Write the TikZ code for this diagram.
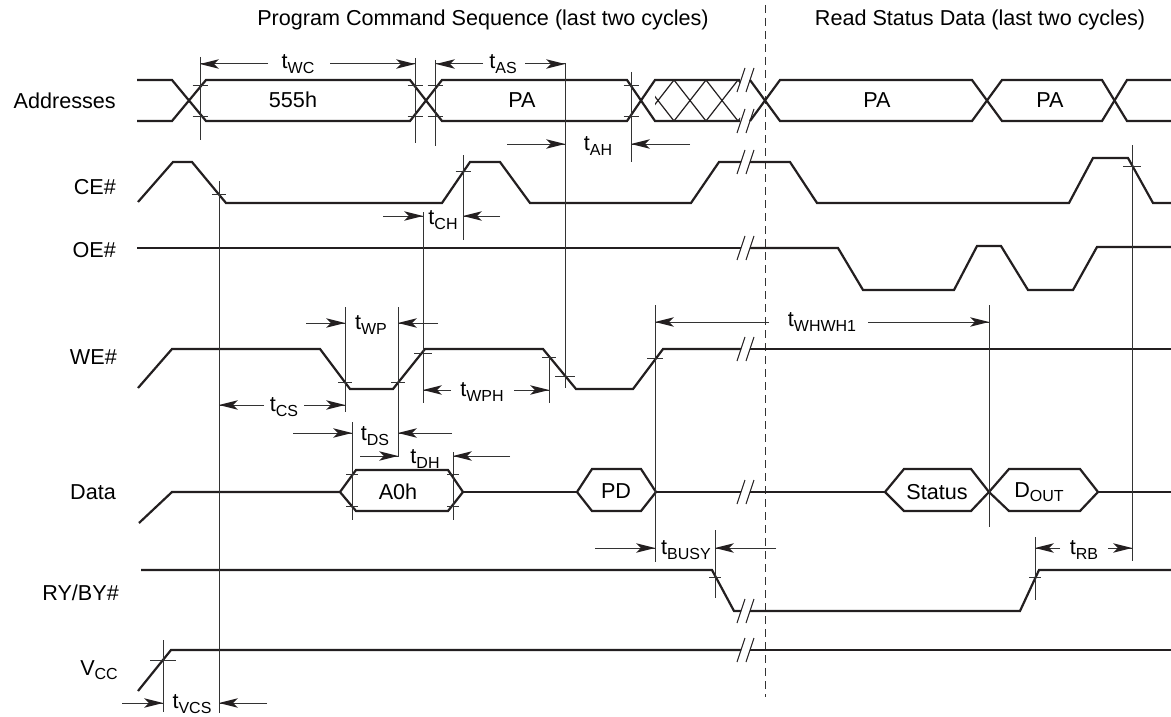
\documentclass[tikz,border=0pt]{standalone}
\usepackage{fontspec}
\setmainfont{Liberation Sans}
\usetikzlibrary{arrows.meta}
\definecolor{sigc}{HTML}{231F20}
\definecolor{refc}{HTML}{333333}
\newcommand\sbs[1]{\raisebox{-4.5pt}{\fontsize{16}{16}\selectfont #1}}
\begin{document}
\begin{tikzpicture}[x=1pt,y=-1pt, font=\fontsize{21.6}{25}\selectfont,
  sig/.style={line width=2.2pt, draw=sigc, line join=miter},
  refl/.style={line width=1pt, draw=refc},
  dimline/.style={line width=1pt, draw=refc},
  tk/.style={line width=1pt, draw=refc},
  lbl/.style={anchor=east, inner sep=0pt},
  tl/.style={inner sep=0pt}]
\useasboundingbox (0,0) rectangle (1171,717);

% dimension arrow: from (#1,#3) to tip at (#2,#3)
\newcommand\dimarrow[3]{%
  \draw[dimline] (#1,#3) -- (#2,#3);
  \pgfmathsetmacro\dd{ifthenelse(#2>#1,1,-1)}
  \fill[sigc] (#2,#3) -- ({#2-\dd*19},{#3-4.8}) -- ({#2-\dd*14},#3) -- ({#2-\dd*19},{#3+4.8}) -- cycle;
}

% titles
\node[tl] (title1) at (483,20) {Program Command Sequence (last two cycles)};
\node[tl] (title2) at (980,20) {Read Status Data (last two cycles)};

% signal names
\node[lbl] (nAddr) at (116,101) {Addresses};
\node[lbl] (nCE) at (116,187) {CE\#};
\node[lbl] (nOE) at (116,250) {OE\#};
\node[lbl] (nWE) at (117,357) {WE\#};
\node[lbl] (nData) at (116,492) {Data};
\node[lbl] (nRY) at (119,593) {RY/BY\#};
\node[lbl] (nVcc) at (118,670) {V\sbs{CC}};

% dashed divider
\draw[refl, dash pattern=on 8pt off 5pt] (765,5) -- (765,697);

% ---------- Addresses ----------
\draw[sig] (137,80)--(172,80)--(206,121)--(410,121)--(442,80)--(627,80)--(655,121)--(740,121);
\draw[sig] (137,121)--(172,121)--(206,80)--(410,80)--(442,121)--(627,121)--(655,80)--(740,80);
\begin{scope}
  \clip (655,80) rectangle (740,121);
  \foreach \c in {658,690,722,754} {
    \draw[line width=1.2pt, draw=sigc] ({\c-16},80) -- ({\c+16},121);
    \draw[line width=1.2pt, draw=sigc] ({\c-16},121) -- ({\c+16},80);
  }
\end{scope}
\draw[sig] (750,80)--(780,121)--(972,121)--(1002,80)--(1102,80)--(1127,121)--(1171,121);
\draw[sig] (750,121)--(780,80)--(972,80)--(1002,121)--(1102,121)--(1127,80)--(1171,80);
\node[tl] (v555) at (293,100) {555h};
\node[tl] (vPA1) at (522,100) {PA};
\node[tl] (vPA2) at (877,100) {PA};
\node[tl] (vPA3) at (1050,100) {PA};

% ---------- CE# ----------
\draw[sig] (138,202)--(173,162)--(192,162)--(226,203)--(442,203)--(470,162)--(500,162)--(530,203)--(691,203)--(719,162)--(741,162);
\draw[sig] (750,162)--(790,162)--(817,203)--(1069,203)--(1093,158)--(1128,158)--(1153,203)--(1171,203);

% ---------- OE# ----------
\draw[sig] (137,248)--(741,248);
\draw[sig] (750,248)--(838,248)--(863,290)--(954,290)--(977,246)--(1001,246)--(1028,290)--(1073,290)--(1097,247)--(1171,247);

% ---------- WE# ----------
\draw[sig] (138,388)--(172,349)--(320,349)--(350,389)--(393,389)--(425,349)--(543,349)--(576,389)--(633,389)--(663,349)--(741,349);
\draw[sig] (750,349)--(1171,349);

% ---------- Data ----------
\draw[sig] (139,523)--(172,492)--(340,492);
\draw[sig] (340,492)--(356,470)--(448,470)--(463,492)--(448,511)--(356,511)--cycle;
\draw[sig] (463,492)--(577,492);
\draw[sig] (577,492)--(592,469)--(641,469)--(656,492)--(641,511)--(592,511)--cycle;
\draw[sig] (656,492)--(741,492);
\draw[sig] (750,492)--(885,492);
\draw[sig] (885,492)--(904,469)--(971,469)--(989,492)--(971,511)--(904,511)--cycle;
\draw[sig] (989,492)--(1009,469)--(1080,469)--(1098,492)--(1080,511)--(1009,511)--cycle;
\draw[sig] (1098,492)--(1171,492);
\node[tl] (vA0h) at (398,492) {A0h};
\node[tl] (vPD) at (616,491) {PD};
\node[tl] (vSt) at (937,492) {Status};
\node[tl] (vDo) at (1039,492) {D\sbs{OUT}};

% ---------- RY/BY# ----------
\draw[sig] (141,570)--(712,570)--(734,611)--(741,611);
\draw[sig] (750,611)--(1020,611)--(1039,570)--(1171,570);

% ---------- Vcc ----------
\draw[sig] (138,691)--(171,650)--(741,650);
\draw[sig] (750,650)--(1171,650);

% break marks
\foreach \y in {80,121,162,248,349,492,611,650} {
  \draw[line width=1pt, draw=sigc] (737,{\y+12}) -- (745,{\y-12});
  \draw[line width=1pt, draw=sigc] (746,{\y+12}) -- (754,{\y-12});
}

% ---------- reference verticals ----------
\draw[refl] (200,57)--(200,140);
\draw[refl] (415,58)--(415,143);
\draw[refl] (435,60)--(435,146);
\draw[refl] (631,72)--(631,162);
\draw[refl] (565,63)--(565,388);
\draw[refl] (219,181)--(219,713);
\draw[refl] (463,155)--(463,240);
\draw[refl] (423,212)--(423,403);
\draw[refl] (345,307)--(345,412);
\draw[refl] (398,307)--(398,457);
\draw[refl] (352,422)--(352,520);
\draw[refl] (453,452)--(453,520);
\draw[refl] (549,357)--(549,403);
\draw[refl] (655,305)--(655,562);
\draw[refl] (989,305)--(989,527);
\draw[refl] (715,530)--(715,598);
\draw[refl] (1035,537)--(1035,600);
\draw[refl] (1132,145)--(1132,561);
\draw[refl] (163,640)--(163,712);

% ---------- ticks ----------
\foreach \x/\y/\w in {200/86/7.5, 200/116/7.5, 415/86/7.5, 415/116/7.5, 435/86/7.5, 435/116/7.5, 631/86/7.5, 631/116/7.5,
  219/194/7, 463/171/7.5, 1132/166/9,
  345/382/7, 398/382/7, 423/353/9, 549/357/7, 565/376/10, 655/358/8,
  352/474/6, 352/506/6, 453/474/6, 453/506/6,
  715/577/6, 1035/577/6, 163/660/13} {
  \draw[tk] ({\x-\w},\y) -- ({\x+\w},\y);
}

% ---------- dimension arrows ----------
\node[tl] (tWC) at (298,64) {t\sbs{WC}};
\dimarrow{268}{200}{64}
\dimarrow{330}{415}{64}

\node[tl] (tAS) at (503,64) {t\sbs{AS}};
\dimarrow{483}{436}{64}
\dimarrow{525}{565}{64}

\node[tl] (tAH) at (598,146) {t\sbs{AH}};
\dimarrow{507}{565}{144}
\dimarrow{690}{631}{144}

\node[tl] (tCH) at (443,220) {t\sbs{CH}};
\dimarrow{383}{423}{216}
\dimarrow{500}{463}{216}

\node[tl] (tWP) at (371,325) {t\sbs{WP}};
\dimarrow{306}{345}{323}
\dimarrow{438}{398}{323}

\node[tl] (tCS) at (284,407) {t\sbs{CS}};
\dimarrow{264}{219}{405}
\dimarrow{304}{345}{405}

\node[tl] (tWPH) at (482,392) {t\sbs{WPH}};
\dimarrow{451}{423}{390}
\dimarrow{514}{549}{390}

\node[tl] (tDS) at (375,436) {t\sbs{DS}};
\dimarrow{293}{352}{433}
\dimarrow{452}{398}{433}

\node[tl] (tDH) at (425,459) {t\sbs{DH}};
\dimarrow{360}{398}{456}
\dimarrow{510}{453}{456}

\node[tl] (tWHWH) at (822,322) {t\sbs{WHWH1}};
\dimarrow{769}{655}{322}
\dimarrow{868}{989}{322}

\node[tl] (tBUSY) at (686,550) {t\sbs{BUSY}};
\dimarrow{595}{655}{548}
\dimarrow{776}{715}{548}

\node[tl] (tRB) at (1084,550) {t\sbs{RB}};
\dimarrow{1060}{1035}{548}
\dimarrow{1108}{1132}{548}

\node[tl] (tVCS) at (192,704) {t\sbs{VCS}};
\dimarrow{122}{163}{703}
\dimarrow{267}{219}{703}
\end{tikzpicture}
\end{document}
